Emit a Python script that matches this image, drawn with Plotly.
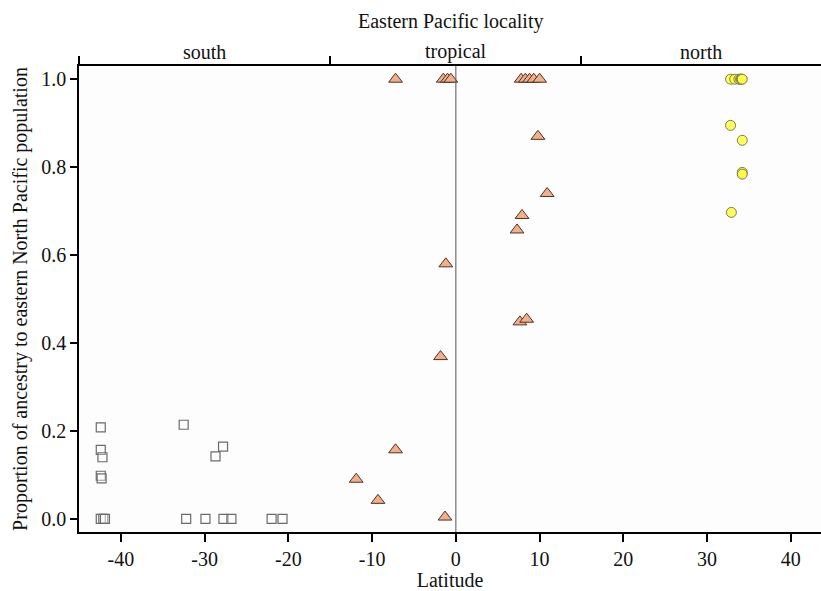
import plotly.graph_objects as go

# South (squares)
south_lat = [-42.4, -42.4, -42.2, -42.4, -42.3, -42.4, -42.1, -41.9,
             -32.5, -27.8, -28.7, -32.2, -29.9, -27.75, -26.8, -22.0, -20.7]
south_prop = [0.208, 0.157, 0.14, 0.098, 0.092, 0.0, 0.0, 0.0,
              0.214, 0.164, 0.142, 0.0, 0.0, 0.0, 0.0, 0.0, 0.0]

# Tropical (triangles)
trop_lat = [-7.2, -1.5, -1.0, -0.6, 7.8, 8.3, 8.8, 9.3, 10.0,
            9.8, 10.9, 7.9, 7.3, -1.2, 7.65, 8.45, -1.83, -7.2, -11.9, -9.3, -1.3]
trop_prop = [1.0, 1.0, 1.0, 1.0, 1.0, 1.0, 1.0, 1.0, 1.0,
             0.87, 0.74, 0.69, 0.657, 0.58, 0.448, 0.454, 0.369, 0.157, 0.09, 0.042, 0.004]

# North (circles)
north_lat = [32.8, 33.3, 33.8, 34.0, 34.1, 34.2, 32.8, 34.2, 34.2, 34.2, 32.9]
north_prop = [1.0, 1.0, 1.0, 1.0, 1.0, 1.0, 0.895, 0.861, 0.788, 0.784, 0.697]

region_names = ["south", "tropical", "north"]
region_centers = [-30, 0, 29.3]
region_bounds = [-45, -15, 15]

x_ticks = [-40, -30, -20, -10, 0, 10, 20, 30, 40]
x_tick_text = ["-40", "-30", "-20", "-10", "0", "10", "20", "30", "40"]
y_ticks = [0.0, 0.2, 0.4, 0.6, 0.8, 1.0]

FONT = "Liberation Serif"
FS = 20

fig = go.Figure()
fig.add_trace(go.Scatter(
    x=south_lat, y=south_prop, mode="markers",
    marker=dict(symbol="square", size=9, color="rgba(255,255,255,0.3)",
                line=dict(color="#6b6b6b", width=1.2)),
    showlegend=False))
fig.add_trace(go.Scatter(
    x=trop_lat, y=trop_prop, mode="markers",
    marker=dict(symbol="triangle-up", size=12, color="#f4ae88",
                line=dict(color="#4a3328", width=1)),
    showlegend=False))
fig.add_trace(go.Scatter(
    x=north_lat, y=north_prop, mode="markers",
    marker=dict(symbol="circle", size=10, color="rgba(255,255,60,0.85)",
                line=dict(color="#7a7a5a", width=1)),
    showlegend=False))
# dummy trace for top axis
fig.add_trace(go.Scatter(x=[None], y=[None], xaxis="x2", showlegend=False))

fig.add_shape(type="line", x0=0, x1=0, y0=0, y1=1, xref="x", yref="paper",
              line=dict(color="#555555", width=1))

for name, cx in zip(region_names, region_centers):
    fig.add_annotation(x=cx, y=1, xref="x", yref="paper", text=name,
                       showarrow=False, yanchor="bottom", yshift=1,
                       font=dict(family=FONT, size=FS, color="#111"))

fig.add_annotation(x=0.5, y=1, xref="paper", yref="paper", yanchor="middle",
                   xanchor="center", yshift=45,
                   text="Eastern Pacific locality", showarrow=False,
                   font=dict(family=FONT, size=FS, color="#111"))

fig.update_layout(
    width=821, height=591,
    margin=dict(l=79, r=0, t=66, b=59),
    paper_bgcolor="white", plot_bgcolor="#fdfdfd",
    font=dict(family=FONT, size=FS, color="#111"),
    xaxis=dict(range=[-45, 43.6], tickvals=x_ticks, ticktext=x_tick_text,
               ticks="outside", ticklen=8, tickwidth=2, tickcolor="black",
               showline=True, linecolor="black", linewidth=2, showgrid=False,
               zeroline=False,
               title=dict(text="Latitude", font=dict(family=FONT, size=FS), standoff=2),
               tickfont=dict(family=FONT, size=FS)),
    xaxis2=dict(range=[-45, 43.6], overlaying="x", side="top",
                tickvals=region_bounds, ticks="outside", ticklen=8, tickwidth=2,
                tickcolor="black", showticklabels=False, showline=True,
                linecolor="black", linewidth=2, showgrid=False, zeroline=False),
    yaxis=dict(range=[-0.03, 1.03], tickvals=y_ticks, tickformat=".1f",
               ticks="outside", ticklen=7, tickwidth=1.5, tickcolor="black",
               showline=True, linecolor="black", linewidth=1.5, showgrid=False,
               zeroline=False,
               title=dict(text="Proportion of ancestry to eastern North Pacific population",
                          font=dict(family=FONT, size=FS), standoff=8),
               tickfont=dict(family=FONT, size=FS)),
)

fig.write_html("out.html")
